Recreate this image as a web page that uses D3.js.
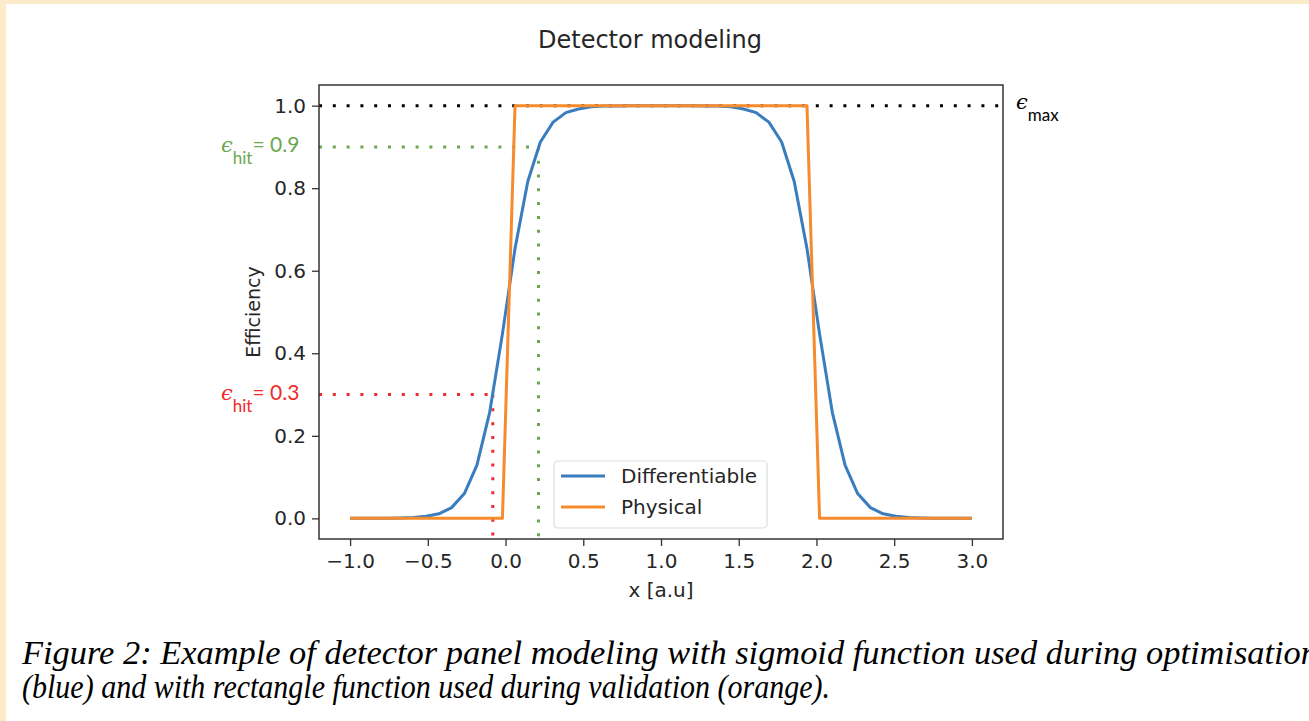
<!DOCTYPE html>
<html>
<head>
<meta charset="utf-8">
<script src="https://cdn.jsdelivr.net/npm/d3@7"></script>
<style>
  body { margin: 0; background: #fcebc8; }
  svg { display: block; }
</style>
</head>
<body>
<div id="plot"></div>
<script>
// Sample points (x in a.u.)
const xVals = [-1.000, -0.918, -0.837, -0.755, -0.673, -0.592, -0.510, -0.429, -0.347, -0.265,
  -0.184, -0.102, -0.020, 0.061, 0.143, 0.224, 0.306, 0.388, 0.469, 0.551,
  0.633, 0.714, 0.796, 0.878, 0.959, 1.041, 1.122, 1.204, 1.286, 1.367,
  1.449, 1.531, 1.612, 1.694, 1.776, 1.857, 1.939, 2.020, 2.102, 2.184,
  2.265, 2.347, 2.429, 2.510, 2.592, 2.673, 2.755, 2.837, 2.918, 3.000];

// Sigmoid efficiency (blue)
const differentiable = [0.000, 0.000, 0.000, 0.000, 0.001, 0.002, 0.005, 0.011, 0.026, 0.060,
  0.129, 0.257, 0.447, 0.654, 0.816, 0.912, 0.960, 0.983, 0.992, 0.997,
  0.999, 0.999, 1.000, 1.000, 1.000, 1.000, 1.000, 1.000, 0.999, 0.999,
  0.997, 0.992, 0.983, 0.960, 0.912, 0.816, 0.654, 0.447, 0.257, 0.129,
  0.060, 0.026, 0.011, 0.005, 0.002, 0.001, 0.000, 0.000, 0.000, 0.000];

// Rectangle efficiency (orange)
const physical = [0, 0, 0, 0, 0, 0, 0, 0, 0, 0, 0, 0, 0,
  1, 1, 1, 1, 1, 1, 1, 1, 1, 1, 1, 1, 1, 1, 1, 1, 1, 1, 1, 1, 1, 1, 1, 1,
  0, 0, 0, 0, 0, 0, 0, 0, 0, 0, 0, 0, 0];

const seriesNames = ["Differentiable", "Physical"];
const xTicks = [-1.0, -0.5, 0.0, 0.5, 1.0, 1.5, 2.0, 2.5, 3.0];
const yTicks = [0.0, 0.2, 0.4, 0.6, 0.8, 1.0];

// Threshold levels
const effMax = 1.0;
const hitEff = [0.9, 0.3];
const hitX = [0.212, -0.082];
const hitColors = ["#6aa84f", "#f02a2a"];

const W = 1309, H = 721;
const margin = { top: 85, right: 306, bottom: 182, left: 319 };
const width = W - margin.left - margin.right;
const height = H - margin.top - margin.bottom;

const svg = d3.select("#plot").append("svg")
  .attr("width", W).attr("height", H);

// white page over beige border
svg.append("rect").attr("x", 6).attr("y", 4).attr("width", W - 6).attr("height", H - 4).attr("fill", "#fff");

const g = svg.append("g").attr("transform", `translate(${margin.left},${margin.top})`);

const x = d3.scaleLinear().domain([-1.2, 3.2]).range([0, width]);
const y = d3.scaleLinear().domain([-0.05, 1.05]).range([height, 0]);

g.append("clipPath").attr("id", "clip")
  .append("rect").attr("width", width).attr("height", height);

const fmt = d => d3.format(".1f")(d).replace("-", "\u2212");

// axes
const xAxis = g.append("g").attr("transform", `translate(0,${height})`)
  .call(d3.axisBottom(x).tickValues(xTicks).tickFormat(fmt).tickSize(7).tickPadding(8));
const yAxis = g.append("g")
  .call(d3.axisLeft(y).tickValues(yTicks).tickFormat(fmt).tickSize(7).tickPadding(6));
[xAxis, yAxis].forEach(a => {
  a.select(".domain").remove();
  a.selectAll("line").attr("stroke", "#333").attr("stroke-width", 1.3);
  a.selectAll("text").attr("fill", "#262626")
    .style("font-family", "DejaVu Sans").style("font-size", "20px");
});

const plot = g.append("g").attr("clip-path", "url(#clip)");

// dotted reference lines
plot.append("line")
  .attr("x1", 0).attr("x2", width)
  .attr("y1", y(effMax)).attr("y2", y(effMax))
  .attr("stroke", "#000").attr("stroke-width", 3).attr("stroke-dasharray", "3,10.8");

hitEff.forEach((e, i) => {
  plot.append("line")
    .attr("x1", 0).attr("x2", x(hitX[i]))
    .attr("y1", y(e)).attr("y2", y(e))
    .attr("stroke", hitColors[i]).attr("stroke-width", 3).attr("stroke-dasharray", "3,10.8");
  plot.append("line")
    .attr("x1", x(hitX[i])).attr("x2", x(hitX[i]))
    .attr("y1", y(e)).attr("y2", height)
    .attr("stroke", hitColors[i]).attr("stroke-width", 3).attr("stroke-dasharray", "3,10.8");
});

// curves
const colors = ["#3a7dbf", "#f68b2e"];
const line = d3.line().x((d, i) => x(xVals[i])).y(d => y(d));
[differentiable, physical].forEach((s, i) => {
  plot.append("path").datum(s)
    .attr("d", line)
    .attr("fill", "none")
    .attr("stroke", colors[i])
    .attr("stroke-width", 3)
    .attr("stroke-linejoin", "round");
});

// frame
g.append("rect").attr("width", width).attr("height", height)
  .attr("fill", "none").attr("stroke", "#333").attr("stroke-width", 1.5);

// legend
const legX = 235, legY = 376;
const leg = g.append("g").attr("transform", `translate(${legX},${legY})`);
leg.append("rect").attr("width", 213).attr("height", 67).attr("rx", 4)
  .attr("fill", "#fff").attr("fill-opacity", 0.85).attr("stroke", "#ddd").attr("stroke-width", 1.2);
seriesNames.forEach((n, i) => {
  const yy = 15 + i * 31;
  leg.append("line").attr("x1", 7).attr("x2", 51).attr("y1", yy).attr("y2", yy)
    .attr("stroke", colors[i]).attr("stroke-width", 3);
  leg.append("text").attr("x", 67).attr("y", yy + 7).text(n)
    .attr("fill", "#262626").style("font-family", "DejaVu Sans").style("font-size", "20px");
});

// titles
svg.append("text").attr("x", 650).attr("y", 48).attr("text-anchor", "middle")
  .text("Detector modeling").attr("fill", "#262626")
  .style("font-family", "DejaVu Sans").style("font-size", "24px");
svg.append("text").attr("x", margin.left + width / 2).attr("y", 597).attr("text-anchor", "middle")
  .text("x [a.u]").attr("fill", "#262626")
  .style("font-family", "DejaVu Sans").style("font-size", "20px");
svg.append("text").attr("transform", `translate(260,${margin.top + height / 2}) rotate(-90)`)
  .attr("text-anchor", "middle").text("Efficiency").attr("fill", "#262626")
  .style("font-family", "DejaVu Sans").style("font-size", "19px");

// epsilon labels
function epsLabel(px, py, sub, rest, color) {
  const t = svg.append("text").attr("x", px).attr("y", py).attr("fill", color)
    .style("font-family", "Lato").style("font-size", "21px");
  t.append("tspan").text("\u03F5").style("font-style", "italic").style("font-family", "DejaVu Serif");
  t.append("tspan").text(sub).attr("dy", 12).style("font-size", "17px");
  if (rest) t.append("tspan").text(rest).attr("dy", -12);
}
epsLabel(1016, margin.top + y(effMax) + 3, "max", null, "#000");
hitEff.forEach((e, i) => {
  epsLabel(221, margin.top + y(e) + 5, "hit", "= " + d3.format(".1f")(e), hitColors[i]);
});

// caption
svg.append("text").attr("x", 22).attr("y", 664)
  .attr("textLength", 1296).attr("lengthAdjust", "spacingAndGlyphs")
  .text("Figure 2: Example of detector panel modeling with sigmoid function used during optimisation")
  .style("font-family", "'Liberation Serif', serif").style("font-style", "italic").style("font-size", "33px");
svg.append("text").attr("x", 22).attr("y", 698)
  .attr("textLength", 808).attr("lengthAdjust", "spacingAndGlyphs")
  .text("(blue) and with rectangle function used during validation (orange).")
  .style("font-family", "'Liberation Serif', serif").style("font-style", "italic").style("font-size", "33px");
</script>
</body>
</html>
